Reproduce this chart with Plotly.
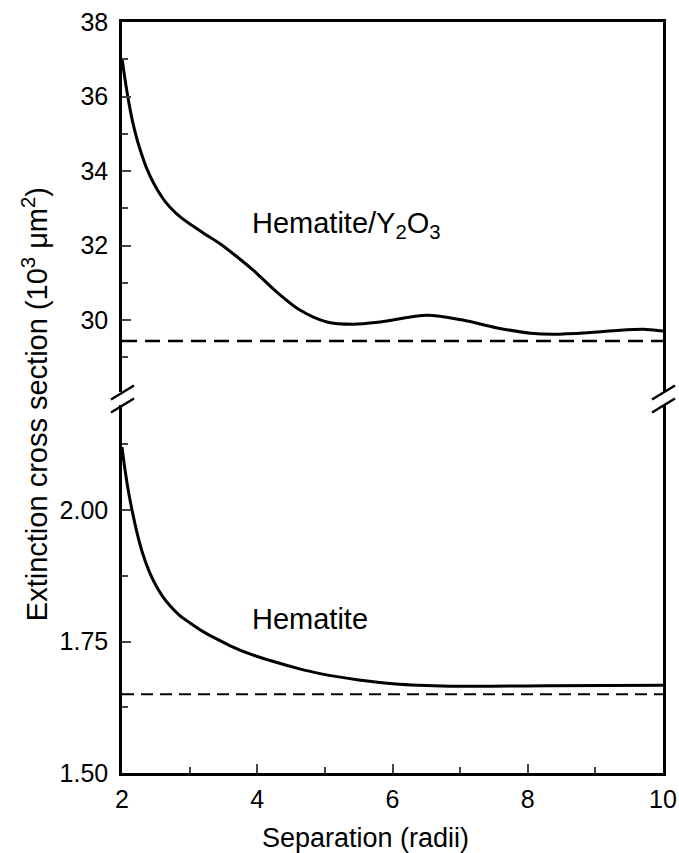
import plotly.graph_objects as go

# Hematite/Y2O3 (upper panel), units 10^3 um^2
sep_top = [2.0, 2.05, 2.1, 2.16, 2.23, 2.3, 2.37, 2.46, 2.61, 2.71, 2.86, 3.2, 3.45, 3.7, 3.94, 4.29,
           4.63, 5.03, 5.42, 5.82, 6.51, 7.04, 7.55, 8.04, 8.38, 8.88, 9.37, 9.76, 10.0]
ext_top = [37.03, 36.4, 35.85, 35.3, 34.8, 34.4, 34.05, 33.7, 33.25, 33.03, 32.77, 32.34, 32.05, 31.7, 31.34, 30.75,
           30.27, 29.95, 29.89, 29.95, 30.13, 30.0, 29.79, 29.65, 29.62, 29.66, 29.73, 29.75, 29.71]
ref_top = 29.44

# Hematite (lower panel)
sep_bot = [2.0, 2.05, 2.1, 2.16, 2.23, 2.3, 2.4, 2.5, 2.6, 2.71, 2.85, 3.0, 3.2, 3.4, 3.6, 3.9, 4.24,
           4.6, 4.93, 5.5, 6.1, 7.0, 8.3, 10.0]
ext_bot = [2.12, 2.072, 2.032, 1.993, 1.953, 1.920, 1.884, 1.857, 1.836, 1.818, 1.800, 1.786, 1.769, 1.755,
           1.742, 1.726, 1.712, 1.699, 1.689, 1.677, 1.669, 1.665, 1.666, 1.667]
ref_bot = 1.65

x_range = [2, 10]
top_range = [28.07, 38]
bot_range = [1.5, 2.2]
x_ticks = [2, 4, 6, 8, 10]
top_ticks = [30, 32, 34, 36, 38]
bot_ticks = [1.50, 1.75, 2.00]

FONT = "Arial, Liberation Sans, sans-serif"
fig = go.Figure()

fig.add_trace(go.Scatter(x=sep_top, y=ext_top, mode="lines", line=dict(color="black", width=3, shape="spline", smoothing=0.9),
                         xaxis="x2", yaxis="y2", showlegend=False))
fig.add_trace(go.Scatter(x=x_range, y=[ref_top, ref_top], mode="lines", line=dict(color="black", width=2.5, dash="15px,8px"),
                         xaxis="x2", yaxis="y2", showlegend=False))
fig.add_trace(go.Scatter(x=sep_bot, y=ext_bot, mode="lines", line=dict(color="black", width=3, shape="spline", smoothing=0.9),
                         xaxis="x", yaxis="y", showlegend=False))
fig.add_trace(go.Scatter(x=x_range, y=[ref_bot, ref_bot], mode="lines", line=dict(color="black", width=2, dash="12px,7px"),
                         xaxis="x", yaxis="y", showlegend=False))

tickfont = dict(family=FONT, size=25, color="black")

fig.update_layout(
    width=679, height=853,
    margin=dict(l=122, r=16, t=22, b=80),
    paper_bgcolor="white", plot_bgcolor="white",
    font=dict(family=FONT, color="black"),
    xaxis=dict(domain=[0, 1], anchor="y", range=x_range, tickvals=x_ticks, ticks="inside", ticklen=9, tickwidth=2,
               minor=dict(dtick=1, ticks="inside", ticklen=6, tickwidth=2, tick0=2),
               showline=True, linewidth=2.5, linecolor="black", mirror=False, showgrid=False, zeroline=False,
               tickfont=tickfont, automargin=False, ticklabelstandoff=2),
    xaxis2=dict(domain=[0, 1], anchor="y2", matches="x", range=x_range, side="top", showticklabels=False, ticks="",
                showline=True, linewidth=2.5, linecolor="black", showgrid=False, zeroline=False, automargin=False),
    yaxis=dict(domain=[0, 0.49], anchor="x", range=bot_range, tickvals=bot_ticks, tickformat=".2f",
               ticks="inside", ticklen=9, tickwidth=2,
               minor=dict(tickvals=[1.625, 1.875, 2.125], ticks="inside", ticklen=6, tickwidth=2),
               showline=True, linewidth=2.5, linecolor="black", mirror=True, showgrid=False, zeroline=False,
               tickfont=tickfont, automargin=False, ticklabelstandoff=6),
    yaxis2=dict(domain=[0.5073, 1], anchor="x2", range=top_range, tickvals=top_ticks,
                ticks="inside", ticklen=9, tickwidth=2,
                minor=dict(tickvals=[29, 31, 33, 35, 37], ticks="inside", ticklen=6, tickwidth=2),
                showline=True, linewidth=2.5, linecolor="black", mirror=True, showgrid=False, zeroline=False,
                tickfont=tickfont, automargin=False, ticklabelstandoff=6),
)

fig.add_annotation(text="Extinction cross section (10<sup>3</sup> μm<sup>2</sup>)", textangle=-90,
                   xref="paper", yref="paper", x=-0.161, y=0.491, xanchor="center", yanchor="middle",
                   showarrow=False, font=dict(family=FONT, size=29, color="black"))
fig.add_annotation(text="Separation (radii)", xref="paper", yref="paper", x=0.451, y=-0.0866,
                   xanchor="center", yanchor="middle", showarrow=False, font=dict(family=FONT, size=27, color="black"))
fig.add_annotation(text="Hematite/Y<sub>2</sub>O<sub>3</sub>", xref="x2", yref="y2", x=3.89, y=32.55,
                   xanchor="left", yanchor="middle", showarrow=False, font=dict(family=FONT, size=29, color="black"))
fig.add_annotation(text="Hematite", xref="x", yref="y", x=3.9, y=1.793,
                   xanchor="left", yanchor="middle", showarrow=False, font=dict(family=FONT, size=29, color="black"))

# axis-break marks on both vertical axes
mid = (0.5073 + 0.49) / 2
for xp in (0, 1):
    for off in (6, -7):
        fig.add_shape(type="line", xref="paper", yref="paper", xsizemode="pixel", ysizemode="pixel",
                      xanchor=xp, yanchor=mid, x0=-11, x1=12, y0=off - 7, y1=off + 7,
                      line=dict(color="black", width=2.5))

fig.write_html("out.html")
